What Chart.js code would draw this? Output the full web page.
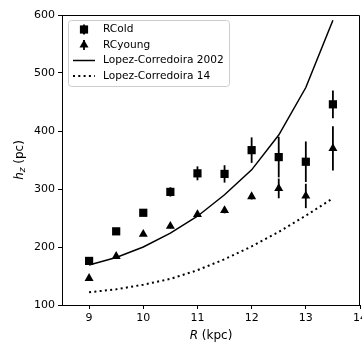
<!DOCTYPE html>
<html>
<head>
<meta charset="utf-8">
<script src="https://cdn.jsdelivr.net/npm/chart.js@4"></script>
<style>
  html, body { margin: 0; background: #fff; overflow: hidden; }
  canvas { display: block; }
</style>
</head>
<body>
<!-- a little wider than the window so the last x label gets cut like the original -->
<canvas id="chart" width="370" height="346"></canvas>
<script>
// radius in kpc
const radius = [9, 9.5, 10, 10.5, 11, 11.5, 12, 12.5, 13, 13.5];
// scale heights (pc) and their errors
const rcOld = [176, 227, 259, 295, 327, 326, 367, 355, 347, 446];
const rcOldErr = [3, 3, 4, 8, 12, 15, 22, 35, 35, 24];
const rcYoung = [146, 184, 222, 236, 256, 263, 287, 301, 288, 370];
const rcYoungErr = [3, 3, 3, 4, 4, 5, 5, 17, 21, 38];
// model curves
const lc2002 = [169, 182, 200, 224, 253, 290, 333, 393, 475, 591];
const lc14 = [122, 127, 135, 145, 160, 179, 201, 226, 254, 284];

const xTicks = [9, 10, 11, 12, 13, 14];
const yTicks = [100, 200, 300, 400, 500, 600];

const FONT = "DejaVu Sans";
const ctx = document.getElementById("chart").getContext("2d");

const pts = (ys) => radius.map((x, i) => ({ x: x, y: ys[i] }));

// vertical error bars, drawn through the scales
const errorBars = {
  id: "errorBars",
  beforeDatasetsDraw(chart) {
    const c = chart.ctx, xs = chart.scales.x, ys = chart.scales.y;
    c.save();
    c.strokeStyle = "#000";
    c.lineWidth = 1.8;
    chart.data.datasets.forEach(ds => {
      if (!ds.errors) return;
      ds.data.forEach((p, i) => {
        const px = xs.getPixelForValue(p.x);
        c.beginPath();
        c.moveTo(px, ys.getPixelForValue(p.y - ds.errors[i]));
        c.lineTo(px, ys.getPixelForValue(p.y + ds.errors[i]));
        c.stroke();
      });
    });
    c.restore();
  }
};

// frame, axis titles and legend box inside the plot
const extras = {
  id: "extras",
  afterDraw(chart) {
    const c = chart.ctx, a = chart.chartArea;
    c.save();
    c.strokeStyle = "#000";
    c.lineWidth = 1;
    c.beginPath();
    c.moveTo(a.left, a.top + 0.5);
    c.lineTo(a.right - 0.5, a.top + 0.5);
    c.lineTo(a.right - 0.5, a.bottom);
    c.stroke();

    // x title: R (kpc)
    c.fillStyle = "#000";
    c.textBaseline = "middle";
    const italic = "italic 12px " + FONT, normal = "12px " + FONT;
    c.font = italic; const w1 = c.measureText("R").width;
    c.font = normal; const w2 = c.measureText(" (kpc)").width;
    let x0 = (a.left + a.right) / 2 - (w1 + w2) / 2;
    c.font = italic; c.textAlign = "left"; c.fillText("R", x0, 336);
    c.font = normal; c.fillText(" (kpc)", x0 + w1, 336);

    // y title: h_z (pc)
    c.save();
    c.translate(20, (a.top + a.bottom) / 2);
    c.rotate(-Math.PI / 2);
    c.font = italic; const h1 = c.measureText("h").width;
    c.font = "italic 9px " + FONT; const h2 = c.measureText("z").width;
    c.font = normal; const h3 = c.measureText(" (pc)").width;
    x0 = -(h1 + h2 + h3) / 2;
    c.font = italic; c.fillText("h", x0, 0);
    c.font = "italic 9px " + FONT; c.fillText("z", x0 + h1, 3);
    c.font = normal; c.fillText(" (pc)", x0 + h1 + h2, 0);
    c.restore();

    // legend
    const lx = a.left + 6, ly = a.top + 5, lw = 161, lh = 66;
    c.beginPath();
    c.roundRect(lx + 0.5, ly + 0.5, lw, lh, 3);
    c.fillStyle = "rgba(255,255,255,0.8)";
    c.fill();
    c.strokeStyle = "#cccccc";
    c.stroke();
    c.font = "10.6px " + FONT;
    chart.data.datasets.forEach((ds, i) => {
      const y = ly + 9.5 + i * 15.5;
      const hx = lx + 16;
      c.strokeStyle = "#000";
      c.fillStyle = "#000";
      if (ds.showLine) {
        c.lineWidth = ds.borderWidth;
        c.setLineDash(ds.borderDash || []);
        c.beginPath();
        c.moveTo(lx + 5, y);
        c.lineTo(lx + 27, y);
        c.stroke();
        c.setLineDash([]);
      } else {
        c.lineWidth = 1.8;
        c.beginPath();
        c.moveTo(hx, y - 5);
        c.lineTo(hx, y + 5);
        c.stroke();
        Chart.helpers.drawPoint(c, { pointStyle: ds.pointStyle, radius: ds.pointRadius, rotation: 0, borderWidth: 0 }, hx, y);
      }
      c.fillStyle = "#000";
      c.fillText(ds.label, lx + 35, y);
    });
    c.restore();
  }
};

new Chart(ctx, {
  type: "scatter",
  data: {
    datasets: [
      { label: "RCold", data: pts(rcOld), errors: rcOldErr, pointStyle: "rect",
        pointRadius: 5.8, backgroundColor: "#000", borderWidth: 0, showLine: false },
      { label: "RCyoung", data: pts(rcYoung), errors: rcYoungErr, pointStyle: "triangle",
        pointRadius: 5.2, backgroundColor: "#000", borderWidth: 0, showLine: false },
      { label: "Lopez-Corredoira 2002", data: pts(lc2002), showLine: true, pointRadius: 0,
        borderColor: "#000", borderWidth: 1.5, tension: 0 },
      { label: "Lopez-Corredoira 14", data: pts(lc14), showLine: true, pointRadius: 0,
        borderColor: "#000", borderWidth: 2, borderDash: [2, 3.3], borderCapStyle: "butt", tension: 0 }
    ]
  },
  options: {
    responsive: false,
    devicePixelRatio: 1,
    animation: false,
    layout: { padding: { top: 15, right: 0, left: 0, bottom: 0 } },
    plugins: { legend: { display: false }, tooltip: { enabled: false } },
    scales: {
      x: {
        type: "linear", min: 8.5, max: 14,
        afterBuildTicks: s => { s.ticks = xTicks.map(v => ({ value: v })); },
        afterFit: s => { s.height = 41; },
        grid: { drawOnChartArea: false, drawTicks: true, tickLength: 4, color: "#000" },
        border: { display: true, color: "#000", width: 1 },
        ticks: { color: "#000", font: { family: FONT, size: 11 }, padding: 3, maxRotation: 0 }
      },
      y: {
        type: "linear", min: 100, max: 600,
        afterBuildTicks: s => { s.ticks = yTicks.map(v => ({ value: v })); },
        afterFit: s => { s.width = 62; },
        grid: { drawOnChartArea: false, drawTicks: true, tickLength: 4, color: "#000" },
        border: { display: true, color: "#000", width: 1 },
        ticks: { color: "#000", font: { family: FONT, size: 11 }, padding: 3 }
      }
    }
  },
  plugins: [errorBars, extras]
});
</script>
</body>
</html>
